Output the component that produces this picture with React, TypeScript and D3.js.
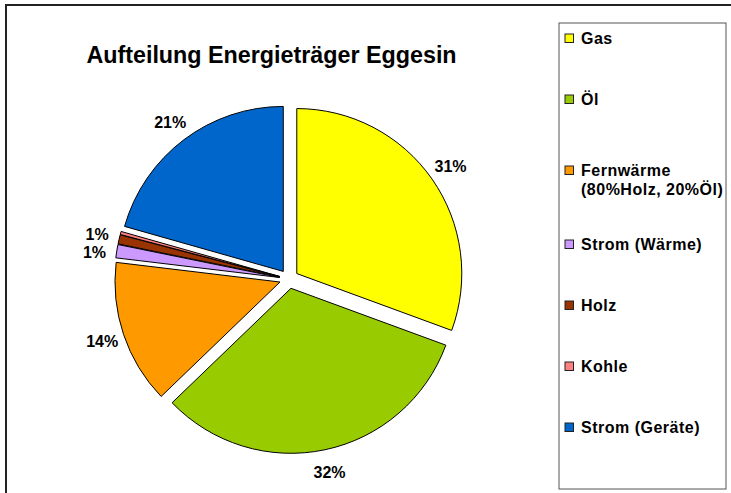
import * as d3 from "d3";

// Anteile der Energieträger in Prozent
const categories = ["Gas", "Öl", "Fernwärme (80%Holz, 20%Öl)", "Strom (Wärme)", "Holz", "Kohle", "Strom (Geräte)"];
const shares = [30.6, 32.2, 14.1, 1.3, 0.9, 0.3, 20.6];
const legendLabels = [["Gas"], ["Öl"], ["Fernwärme", "(80%Holz, 20%Öl)"], ["Strom (Wärme)"], ["Holz"], ["Kohle"], ["Strom (Geräte)"]];
const colors = ["#FFFF00", "#99CC00", "#FF9900", "#CC99FF", "#993300", "#FF8080", "#0066CC"];
const title = "Aufteilung Energieträger Eggesin";

export default function App() {
  const width = 731, height = 493;
  const cx = 289, cy = 279, radius = 165, explode = 9.5, labelR = 197;
  const font = "'Liberation Sans', Arial, sans-serif";

  const total = d3.sum(shares);
  const arcs = d3.pie<number>().sort(null).value(d => d)(shares);
  const arcGen = d3.arc<d3.PieArcDatum<number>>().innerRadius(0).outerRadius(radius);
  const pct = d3.format(".0%");

  // Beschriftungen aussen, kleine Werte (<0.5%) ohne Label
  let labels = arcs
    .map((a, i) => {
      const mid = (a.startAngle + a.endAngle) / 2;
      return { i, x: cx + labelR * Math.sin(mid), y: cy - labelR * Math.cos(mid), text: pct(shares[i] / total), v: shares[i] / total };
    })
    .filter(l => l.v >= 0.005);
  // einfache Kollisionsvermeidung fuer eng beieinander liegende Labels
  const sorted = [...labels].sort((a, b) => a.y - b.y);
  for (let k = 1; k < sorted.length; k++) {
    const prev = sorted[k - 1], cur = sorted[k];
    if (Math.abs(prev.x - cur.x) < 30 && cur.y - prev.y < 18) cur.y = prev.y + 18;
  }

  // Legende
  const legend = { x: 559, y: 23, w: 167, h: 466 };
  const lineH = 19;
  let cursor = 38.5;
  const legendRows = legendLabels.map((lines, i) => {
    cursor += (lines.length - 1) * 10;
    const row = { i, y: cursor, lines };
    cursor += 61 + (lines.length - 1) * 13;
    return row;
  });

  return (
    <svg width={width} height={height} viewBox={`0 0 ${width} ${height}`}
      style={{ position: "absolute", left: 0, top: 0, background: "#fff" }} fontFamily={font}>
      <rect x={6} y={5} width={width + 50} height={height + 50} fill="#fff" stroke="#222" strokeWidth={2} />
      <text x={271.5} y={63} textAnchor="middle" fontSize={23.3} fontWeight="bold" fill="#000">{title}</text>

      <g>
        {arcs.map((a, i) => {
          const mid = (a.startAngle + a.endAngle) / 2;
          const dx = explode * Math.sin(mid), dy = -explode * Math.cos(mid);
          return (
            <path key={categories[i]} d={arcGen(a) || ""} transform={`translate(${cx + dx},${cy + dy})`}
              fill={colors[i]} stroke="#000" strokeWidth={1} strokeLinejoin="round" />
          );
        })}
      </g>
      <g>
        {labels.map(l => (
          <text key={l.i} x={l.x} y={l.y} dy="0.36em" textAnchor="middle" fontSize={16} fontWeight="bold" fill="#000">{l.text}</text>
        ))}
      </g>

      <rect x={legend.x} y={legend.y} width={legend.w} height={legend.h} fill="#fff" stroke="#555" strokeWidth={1} />
      {legendRows.map(r => (
        <g key={r.i}>
          <rect x={565} y={r.y - 4.5} width={8.5} height={8.5} fill={colors[r.i]} stroke="#222" strokeWidth={1} />
          {r.lines.map((t, j) => (
            <text key={j} x={581} y={r.y + j * lineH} dy="0.36em" fontSize={16} letterSpacing={0.5} fontWeight="bold" fill="#000">{t}</text>
          ))}
        </g>
      ))}
    </svg>
  );
}
